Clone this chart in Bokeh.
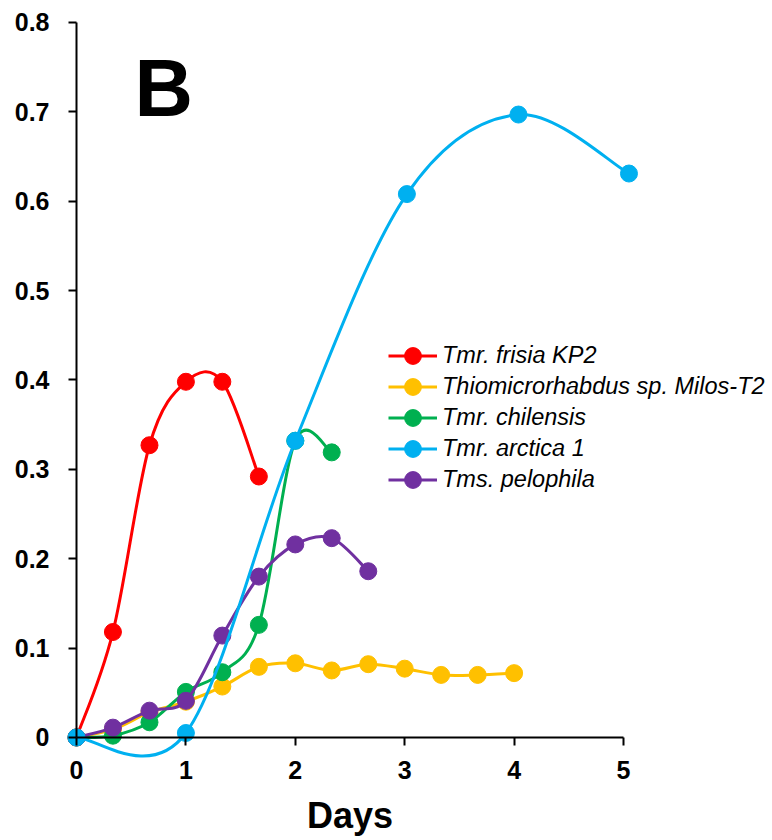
from bokeh.plotting import figure
from bokeh.models import (ColumnDataSource, Range1d, FixedTicker, Legend,
                          LegendItem, Label)
from bokeh.embed import file_html
from bokeh.resources import INLINE

# ---------------- data ----------------
frisia_x = [0, 0.333, 0.667, 1.0, 1.333, 1.667]
frisia_y = [0, 0.118, 0.327, 0.398, 0.398, 0.292]

milos_x = [0, 0.333, 0.667, 1.0, 1.333, 1.667, 2.0, 2.333, 2.667, 3.0, 3.333, 3.667, 4.0]
milos_y = [0, 0.009, 0.028, 0.040, 0.057, 0.079, 0.083, 0.075, 0.082, 0.077, 0.070, 0.070, 0.072]

chilensis_x = [0, 0.333, 0.667, 1.0, 1.333, 1.667, 2.0, 2.333]
chilensis_y = [0, 0.002, 0.017, 0.051, 0.073, 0.126, 0.332, 0.319]

arctica_x = [0, 1.0, 2.0, 3.02, 4.04, 5.05]
arctica_y = [0, 0.005, 0.332, 0.608, 0.697, 0.631]

pelophila_x = [0, 0.333, 0.667, 1.0, 1.333, 1.667, 2.0, 2.333, 2.667]
pelophila_y = [0, 0.011, 0.030, 0.041, 0.114, 0.180, 0.216, 0.223, 0.186]

series_names = ["Tmr. frisia KP2", "Thiomicrorhabdus sp. Milos-T2",
                "Tmr. chilensis", "Tmr. arctica 1", "Tms. pelophila"]
series_colors = ["#FF0000", "#FFC000", "#00B050", "#00B0F0", "#7030A0"]

x_ticks = [0, 1, 2, 3, 4, 5]
x_tick_labels = ["0", "1", "2", "3", "4", "5"]
y_ticks = [0, 0.1, 0.2, 0.3, 0.4, 0.5, 0.6, 0.7, 0.8]
y_tick_labels = ["0", "0.1", "0.2", "0.3", "0.4", "0.5", "0.6", "0.7", "0.8"]

FONT = "Liberation Sans"


def smooth_segments(xs, ys):
    """Bezier control points (Catmull-Rom style) for a smoothed line."""
    n = len(xs)
    d = dict(x0=[], y0=[], x1=[], y1=[], cx0=[], cy0=[], cx1=[], cy1=[])
    for i in range(n - 1):
        ip = max(i - 1, 0)
        inx = min(i + 2, n - 1)
        d["x0"].append(xs[i]); d["y0"].append(ys[i])
        d["x1"].append(xs[i + 1]); d["y1"].append(ys[i + 1])
        d["cx0"].append(xs[i] + (xs[i + 1] - xs[ip]) / 6.0)
        d["cy0"].append(ys[i] + (ys[i + 1] - ys[ip]) / 6.0)
        d["cx1"].append(xs[i + 1] - (xs[inx] - xs[i]) / 6.0)
        d["cy1"].append(ys[i + 1] - (ys[inx] - ys[i]) / 6.0)
    return d


W, H = 770, 836
p = figure(width=W, height=H, output_backend="svg", toolbar_location=None,
           x_range=Range1d(-0.6947, 6.3437), y_range=Range1d(-0.1108, 0.8246),
           min_border_left=0, min_border_right=0, min_border_top=0,
           min_border_bottom=0)
p.outline_line_color = None
p.xgrid.visible = False
p.ygrid.visible = False
p.background_fill_color = "white"

all_series = [(frisia_x, frisia_y), (milos_x, milos_y), (chilensis_x, chilensis_y),
              (arctica_x, arctica_y), (pelophila_x, pelophila_y)]
draw_order = [0, 1, 2, 4, 3]
rends = {}
for k in draw_order:
    xs, ys = all_series[k]
    col = series_colors[k]
    bez = p.bezier(x0="x0", y0="y0", x1="x1", y1="y1", cx0="cx0", cy0="cy0",
                   cx1="cx1", cy1="cy1", source=ColumnDataSource(smooth_segments(xs, ys)),
                   line_color=col, line_width=3)
    dots = p.ellipse(x=xs, y=ys, width=17, height=17, width_units="screen",
                     height_units="screen", fill_color=col, line_color=col)
    rends[k] = [bez, dots]

# axes
for ax in (p.xaxis[0], p.yaxis[0]):
    ax.fixed_location = 0
    ax.axis_line_color = "black"
    ax.axis_line_width = 2
    ax.major_tick_line_color = "black"
    ax.major_tick_line_width = 2
    ax.major_tick_out = 8
    ax.major_tick_in = 0
    ax.minor_tick_line_color = None
    ax.major_label_text_font = FONT
    ax.major_label_text_font_style = "bold"
    ax.major_label_text_font_size = "25px"
    ax.major_label_text_color = "black"

p.xaxis.bounds = (0, 5)
p.xaxis.ticker = FixedTicker(ticks=x_ticks)
p.xaxis.major_label_overrides = {t: l for t, l in zip(x_ticks, x_tick_labels)}
p.xaxis.major_label_standoff = 16
p.xaxis.axis_label = "Days"
p.xaxis.axis_label_text_font = FONT
p.xaxis.axis_label_text_font_style = "bold"
p.xaxis.axis_label_text_font_size = "36px"
p.xaxis.axis_label_text_color = "black"
p.xaxis.axis_label_standoff = 12

p.yaxis.bounds = (0, 0.8)
p.yaxis.ticker = FixedTicker(ticks=y_ticks)
p.yaxis.major_label_overrides = {t: l for t, l in zip(y_ticks, y_tick_labels)}
p.yaxis.major_label_standoff = 19

# panel letter
p.add_layout(Label(x=0.530, y=0.727, text="B", text_font=FONT,
                   text_font_style="bold", text_font_size="81px",
                   text_color="black", text_baseline="alphabetic"))

legend = Legend(items=[LegendItem(label=series_names[k], renderers=rends[k])
                       for k in range(5)],
                location=(388, 341), orientation="vertical",
                glyph_width=49, glyph_height=21, label_height=31, spacing=0,
                label_standoff=5, padding=0, margin=0,
                border_line_color=None, background_fill_alpha=0,
                label_text_font=FONT, label_text_font_style="italic",
                label_text_font_size="23.5px", label_text_color="black")
p.add_layout(legend)

open("out.html", "w").write(file_html(p, INLINE))
